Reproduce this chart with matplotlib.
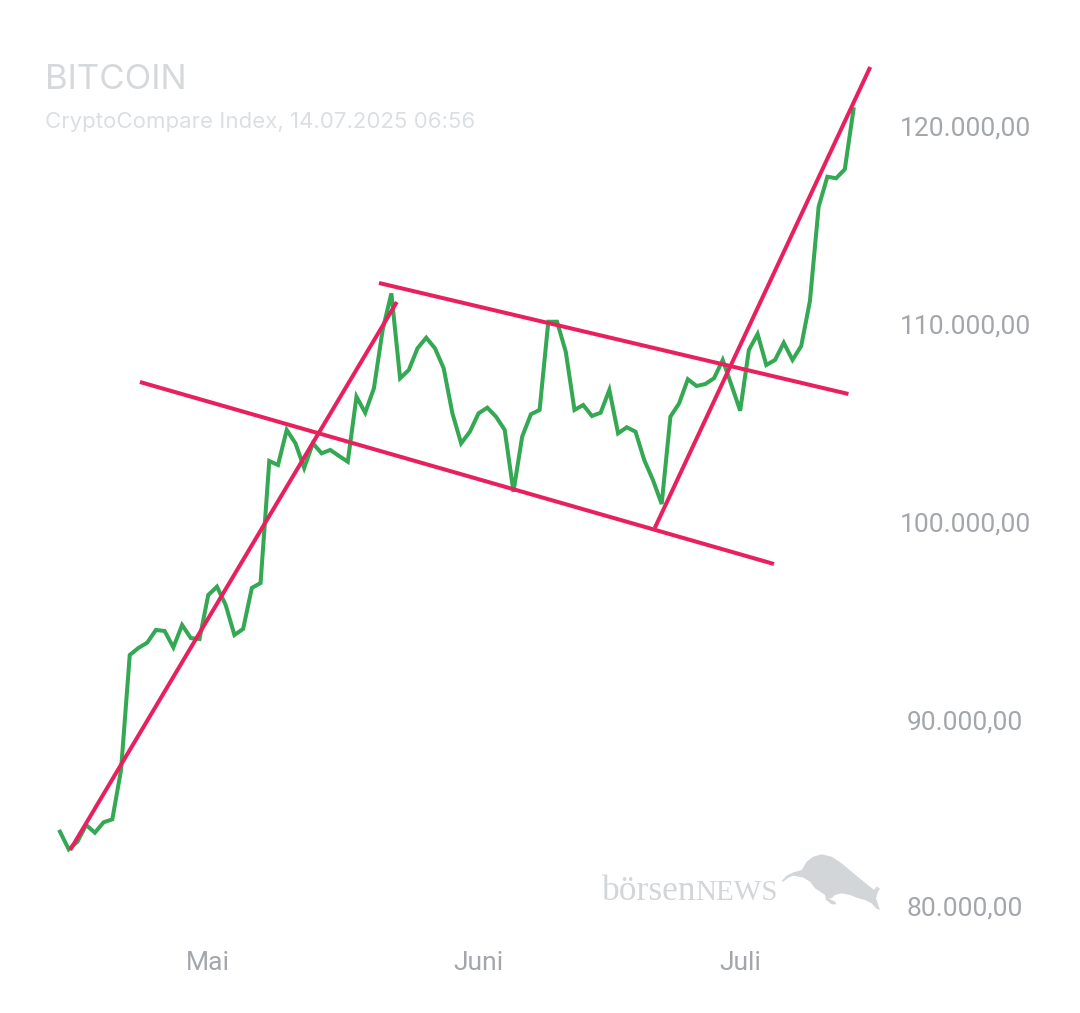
import numpy as np
import pandas as pd
import matplotlib
matplotlib.use('Agg')
import matplotlib.pyplot as plt
from matplotlib.patches import Polygon

# daily closes, 14.04.2025 - 14.07.2025
dates = pd.date_range('2025-04-14', periods=92, freq='D')
prices = [
    84460, 83570, 83955, 84800, 84410, 84935, 85085, 87575, 93385, 93740,
    94005, 94650, 94595, 93770, 94900, 94240, 94190, 96415, 96835, 95910,
    94395, 94700, 96770, 97020, 103180, 102980, 104750, 104075, 102830, 104075,
    103570, 103740, 103435, 103145, 106430, 105620, 106855, 109800, 111650, 107360,
    107780, 108875, 109410, 108875, 107865, 105590, 104075, 104660, 105590, 105875,
    105420, 104750, 101630, 104410, 105540, 105760, 110215, 110215, 108700, 105760,
    106010, 105455, 105620, 106770, 104580, 104885, 104660, 103230, 102220, 101010,
    105420, 106095, 107310, 106970, 107070, 107360, 108285, 107020, 105720, 108790,
    109595, 108030, 108285, 109155, 108285, 108990, 111260, 116025, 117540, 117460,
    117915, 120945,
]

# trend lines (start / end date, start / end value)
trend_dates = [
    ('2025-04-15 04:00', '2025-05-22 15:00'),
    ('2025-04-23 04:00', '2025-07-04 21:00'),
    ('2025-05-20 14:00', '2025-07-13 10:00'),
    ('2025-06-21 05:00', '2025-07-15 22:00'),
]
trend_values = [
    (83535, 111212),
    (107172, 97980),
    (112172, 106566),
    (99798, 123081),
]

y_ticks = [120000, 110000, 100000, 90000, 80000]
y_labels = ['120.000,00', '110.000,00', '100.000,00', '90.000,00', '80.000,00']
x_ticks = ['2025-05-01', '2025-06-01', '2025-07-01']
x_labels = ['Mai', 'Juni', 'Juli']

GREEN = '#34a853'
PINK = '#e8215e'
TICK = '#a3a7ab'
MARK = '#d3d6d9'

W, H = 1080, 1013
fig = plt.figure(figsize=(W / 100, H / 100), dpi=100)
ax = fig.add_axes([0, 0, 1, 1])
ax.axis('off')

t0 = dates[0]
px_day = 8.72
ax.set_xlim(t0 - pd.Timedelta(days=60 / px_day), t0 + pd.Timedelta(days=(W - 60) / px_day))
v_px = 10000 / 198
ax.set_ylim(100000 - (H - 524) * v_px, 100000 + 524 * v_px)

ax.plot(dates, prices, color=GREEN, lw=2.9, solid_joinstyle='miter', zorder=2)

for (d1, d2), (v1, v2) in zip(trend_dates, trend_values):
    ax.plot([pd.Timestamp(d1), pd.Timestamp(d2)], [v1, v2], color=PINK, lw=2.9,
            solid_capstyle='butt', zorder=3)

# y labels on the right
xr = t0 + pd.Timedelta(days=(965 - 60) / px_day)
for v, lab in zip(y_ticks, y_labels):
    off = 12 * v_px if v == 80000 else 0
    ax.text(xr, v + off, lab, ha='center', va='center', fontsize=19,
            family='Roboto', color=TICK)

yb = 100000 - (963 - 524) * v_px
for d, lab in zip(x_ticks, x_labels):
    ax.text(pd.Timestamp(d), yb, lab, ha='center', va='center', fontsize=19,
            family='Roboto', color=TICK)

# header
fig.text(45 / W, 1 - 80 / H, 'BITCOIN', fontsize=25, family='Inter',
         color='#d6d9dc', va='center', ha='left')
fig.text(45 / W, 1 - 122 / H, 'CryptoCompare Index, 14.07.2025 06:56', fontsize=16,
         family='Inter', color='#dcdfe2', va='center', ha='left')

# watermark
fig.text(602 / W, 1 - 900 / H, 'börsen', fontsize=25.5, family='Liberation Serif',
         color=MARK, va='baseline', ha='left')
fig.text(695 / W, 1 - 900 / H, 'NEWS', fontsize=21, family='Liberation Serif',
         color=MARK, va='baseline', ha='left')
bull = [(35, 108), (50, 92), (70, 82), (95, 75), (110, 50), (130, 35), (155, 28),
        (185, 35), (215, 55), (245, 80), (275, 105), (300, 125), (312, 135),
        (320, 125), (330, 130), (322, 145), (318, 160), (325, 180), (330, 195),
        (318, 190), (305, 175), (285, 165), (265, 160), (240, 150), (215, 145),
        (195, 150), (185, 160), (175, 160), (195, 170), (200, 178), (185, 178),
        (168, 165), (165, 150), (150, 140), (135, 130), (120, 110), (100, 98),
        (85, 95), (70, 92), (55, 98), (40, 110)]
bull = [((x / 3 + 770) / W, 1 - (y / 3 + 845) / H) for x, y in bull]
fig.patches.append(Polygon(bull, closed=True, transform=fig.transFigure,
                           facecolor=MARK, edgecolor='none'))

fig.savefig('out.png', dpi=100, facecolor='white')
